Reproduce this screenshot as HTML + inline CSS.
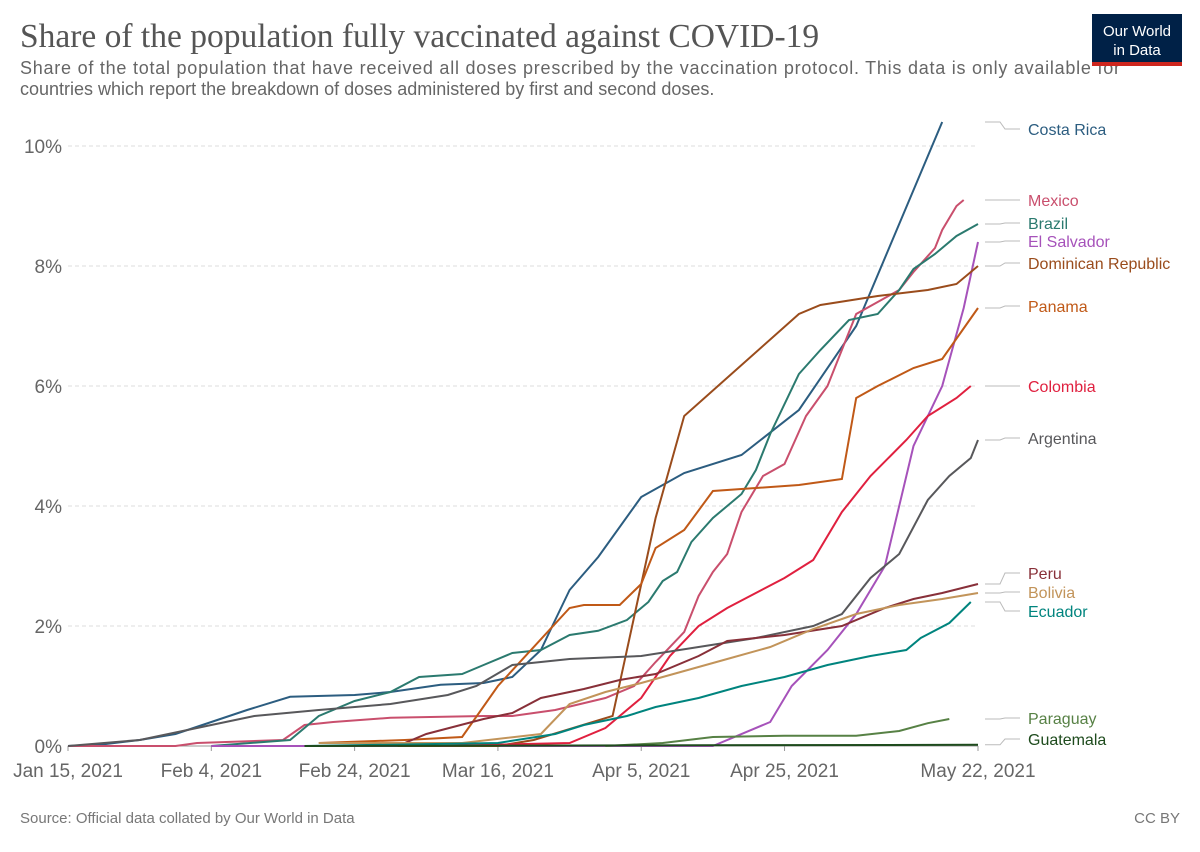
<!DOCTYPE html>
<html><head><meta charset="utf-8">
<style>
body{margin:0;background:#fff;font-family:"Liberation Sans",sans-serif;}
svg text{font-family:"Liberation Sans",sans-serif;}
</style></head>
<body>
<svg width="1200" height="847" xmlns="http://www.w3.org/2000/svg" id="chart">
<text x="20" y="47" style="font-family:'Liberation Serif',serif" font-size="33.5" fill="#555">Share of the population fully vaccinated against COVID-19</text>
<text x="20" y="74" font-size="18" fill="#666" textLength="1100">Share of the total population that have received all doses prescribed by the vaccination protocol. This data is only available for</text>
<text x="20" y="95" font-size="18" fill="#666">countries which report the breakdown of doses administered by first and second doses.</text>
<g>
<rect x="1092" y="14" width="90" height="52" fill="#002147"/>
<rect x="1092" y="62" width="90" height="4" fill="#ce261e"/>
<text x="1137" y="36" font-size="15" fill="#fff" text-anchor="middle">Our World</text>
<text x="1137" y="55" font-size="15" fill="#fff" text-anchor="middle">in Data</text>
</g>
<g id="grid"></g>
<g id="series"></g>
<g id="labels"></g>
<text x="20" y="823" font-size="15" fill="#777">Source: Official data collated by Our World in Data</text>
<text x="1180" y="823" font-size="15" fill="#777" text-anchor="end">CC BY</text>
</svg>
<script>
const xTickLabels=["Jan 15, 2021","Feb 4, 2021","Feb 24, 2021","Mar 16, 2021","Apr 5, 2021","Apr 25, 2021","May 22, 2021"];
const xTickDays=[0,20,40,60,80,100,127];
const yTicks=[0,2,4,6,8,10];
const countries=["Costa Rica","Mexico","Brazil","El Salvador","Dominican Republic","Panama","Colombia","Argentina","Peru","Bolivia","Ecuador","Paraguay","Guatemala"];
const colors=["#2c5d80","#c94f6d","#2b7a6f","#a652ba","#9a4c1c","#c05917","#e0203f","#58585b","#883039","#c2945a","#00847e","#578145","#1e4b1d"];
const labelY=[135,206,229,247,269,312,392,444,579,598,617,724,745];
const costaRica=[[0,0],[5,0.03],[10,0.1],[15,0.2],[20,0.4],[25,0.6],[31,0.82],[40,0.85],[45,0.9],[52,1.02],[58,1.05],[62,1.15],[66,1.6],[68,2.1],[70,2.6],[74,3.15],[80,4.15],[86,4.55],[94,4.85],[102,5.6],[110,7.0],[122,10.4]];
const mexico=[[0,0],[15,0],[18,0.05],[30,0.1],[33,0.35],[37,0.4],[45,0.47],[58,0.5],[62,0.5],[68,0.6],[75,0.8],[79,1.0],[82,1.4],[86,1.9],[88,2.5],[90,2.9],[92,3.2],[94,3.9],[97,4.5],[100,4.7],[103,5.5],[106,6.0],[110,7.2],[113,7.4],[116,7.6],[118,7.9],[121,8.3],[122,8.6],[124,9.0],[125,9.1]];
const brazil=[[20,0],[31,0.1],[35,0.5],[40,0.75],[45,0.9],[49,1.15],[55,1.2],[58,1.35],[62,1.55],[66,1.6],[70,1.85],[74,1.92],[78,2.1],[81,2.4],[83,2.75],[85,2.9],[87,3.4],[90,3.8],[94,4.2],[96,4.6],[98,5.2],[102,6.2],[105,6.6],[109,7.1],[113,7.2],[116,7.6],[118,7.95],[121,8.2],[124,8.5],[127,8.7]];
const elSalvador=[[20,0],[90,0],[98,0.4],[101,1.0],[106,1.6],[110,2.2],[114,3.0],[118,5.0],[122,6.0],[125,7.3],[127,8.4]];
const dominican=[[46,0],[60,0],[65,0.1],[76,0.5],[82,3.8],[86,5.5],[102,7.2],[105,7.35],[113,7.5],[120,7.6],[124,7.7],[127,8.0]];
const panama=[[35,0.05],[47,0.1],[55,0.15],[60,1.0],[70,2.3],[72,2.35],[77,2.35],[80,2.7],[82,3.3],[86,3.6],[90,4.25],[96,4.3],[102,4.35],[108,4.45],[110,5.8],[113,6.0],[118,6.3],[122,6.45],[127,7.3]];
const colombia=[[52,0],[70,0.05],[75,0.3],[80,0.8],[84,1.5],[88,2.0],[92,2.3],[100,2.8],[104,3.1],[108,3.9],[112,4.5],[117,5.1],[120,5.5],[124,5.8],[126,6.0]];
const argentina=[[0,0],[10,0.1],[20,0.35],[26,0.5],[35,0.6],[45,0.7],[53,0.85],[57,1.0],[62,1.35],[70,1.45],[80,1.5],[88,1.65],[96,1.8],[104,2.0],[108,2.2],[112,2.8],[116,3.2],[120,4.1],[123,4.5],[126,4.8],[127,5.1]];
const peru=[[46,0],[50,0.2],[58,0.45],[62,0.55],[66,0.8],[72,0.95],[77,1.1],[82,1.2],[88,1.5],[92,1.75],[100,1.85],[108,2.0],[114,2.3],[118,2.45],[122,2.55],[127,2.7]];
const bolivia=[[35,0.05],[55,0.05],[66,0.2],[70,0.7],[75,0.9],[80,1.05],[86,1.25],[92,1.45],[98,1.65],[104,1.95],[110,2.2],[116,2.35],[122,2.45],[127,2.55]];
const ecuador=[[33,0],[60,0.05],[68,0.2],[72,0.35],[78,0.5],[82,0.65],[88,0.8],[94,1.0],[100,1.15],[106,1.35],[112,1.5],[117,1.6],[119,1.8],[123,2.05],[126,2.4]];
const paraguay=[[75,0],[83,0.05],[90,0.15],[100,0.17],[110,0.17],[116,0.25],[120,0.38],[123,0.45]];
const guatemala=[[33,0],[127,0.02]];
const seriesData=[costaRica,mexico,brazil,elSalvador,dominican,panama,colombia,argentina,peru,bolivia,ecuador,paraguay,guatemala];

const NS="http://www.w3.org/2000/svg";
const x=d=>68+d*(910/127);
const y=v=>746-v*60;
const grid=document.getElementById('grid');
yTicks.forEach(t=>{
  const l=document.createElementNS(NS,'line');
  
  
  l.setAttribute('x1',68);l.setAttribute('x2',978);l.setAttribute('y1',y(t));l.setAttribute('y2',y(t));
  l.setAttribute('stroke',t===0?'#999':'#ddd');l.setAttribute('stroke-dasharray',t===0?'':'4,3');
  grid.appendChild(l);
  const tx=document.createElementNS(NS,'text');
  
  
  tx.setAttribute('x',62);tx.setAttribute('y',y(t)+7);tx.setAttribute('text-anchor','end');
  tx.setAttribute('font-size','19');tx.setAttribute('fill','#666');tx.textContent=t+'%';
  grid.appendChild(tx);
});
xTickDays.forEach((d,i)=>{
  const tx=document.createElementNS(NS,'text');
  
  
  tx.setAttribute('x',x(d));tx.setAttribute('y',777);tx.setAttribute('text-anchor','middle');
  tx.setAttribute('font-size','19');tx.setAttribute('fill','#666');tx.textContent=xTickLabels[i];
  grid.appendChild(tx);
  const tk=document.createElementNS(NS,'line');
  
  
  tk.setAttribute('x1',x(d));tk.setAttribute('x2',x(d));tk.setAttribute('y1',746);tk.setAttribute('y2',751);tk.setAttribute('stroke','#999');
  grid.appendChild(tk);
});
const sg=document.getElementById('series'), lg=document.getElementById('labels');
seriesData.forEach((pts,i)=>{
  const p=document.createElementNS(NS,'path');
  
  
  p.setAttribute('d',pts.map((q,j)=>(j?'L':'M')+x(q[0]).toFixed(1)+','+y(q[1]).toFixed(1)).join(''));
  p.setAttribute('fill','none');p.setAttribute('stroke',colors[i]);p.setAttribute('stroke-width','2');
  sg.appendChild(p);
  const last=pts[pts.length-1];
  const c=document.createElementNS(NS,'path');
  
  
  c.setAttribute('d','M985,'+y(last[1]).toFixed(1)+'H1000L1005,'+(labelY[i]-6)+'H1020');
  c.setAttribute('fill','none');c.setAttribute('stroke','#bbb');
  lg.appendChild(c);
  const t=document.createElementNS(NS,'text');
  
  
  t.setAttribute('x',1028);t.setAttribute('y',labelY[i]);t.setAttribute('font-size','16');
  t.setAttribute('fill',colors[i]);t.textContent=countries[i];
  lg.appendChild(t);
});
</script>
</body></html>
